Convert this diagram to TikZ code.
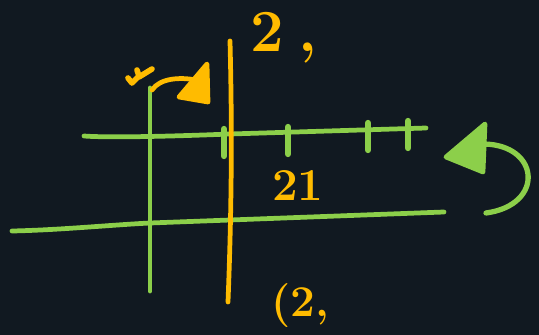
\documentclass[tikz,border=0pt]{standalone}
\usepackage{tikz}
\usetikzlibrary{calc}
\usetikzlibrary{positioning}

\definecolor{board}{RGB}{17,25,33}
\definecolor{pengreen}{RGB}{140,207,74}
\definecolor{penorange}{RGB}{255,187,0}

\tikzset{
    greenpen/.style={draw=pengreen, line width=2.7pt, line cap=round, line join=round},
    orangepen/.style={draw=penorange, line width=2.7pt, line cap=round, line join=round},
    scrawl/.style={text=penorange, font=\bfseries\fontsize{#1}{#1}\selectfont, inner sep=0pt}
}

\begin{document}
\begin{tikzpicture}[x=0.02cm, y=-0.02cm]
                \fill[board] (0,0) rectangle (539,335);
                \useasboundingbox (0,0) rectangle (539,335);
                % axes
                \draw[greenpen] (84,136) .. controls (110,138) and (180,136) .. (230,134) -- (426,128);
                \draw[greenpen] (12,231) .. controls (60,230) and (110,225) .. (150,223) -- (444,212);
                \draw[greenpen] (150,88) -- (150,291);
                \draw[orangepen] (230,41) .. controls (232,120) and (232,200) .. (228,302);
                % ticks
                \foreach \tx/\ta in {224/129, 288/127, 368/123, 408/121}
                    \draw[greenpen, line width=3.6pt] (\tx,\ta) -- (\tx,{\ta+27});
                % orange arrow
                \coordinate (bend) at (152,90);
                \draw[orangepen] (bend) .. controls (160,78) and (180,77) .. (196,80);
                \filldraw[orangepen, fill=penorange] (207,64) -- (179,97) -- (208,102) -- cycle;
                \draw[orangepen, line width=3.2pt] (128,78) -- (132,83) -- (139,76) -- (137,70) (139,77) -- (152,69);
                % green arrow on the right
                \draw[greenpen, line width=3pt] (486,213) .. controls (545,205) and (540,145) .. (484,144);
                \filldraw[greenpen, fill=pengreen] (446,157) -- (485,124) -- (483,172) -- cycle;
                % labels
                \node[scrawl=34] (toplabel) at (284,38) {2\kern8pt,};
                \node[scrawl=26] (midlabel) at (298,186) {21};
                \node[scrawl=25] (botlabel) at (300,306) {(2,};
            \end{tikzpicture}
\end{document}
